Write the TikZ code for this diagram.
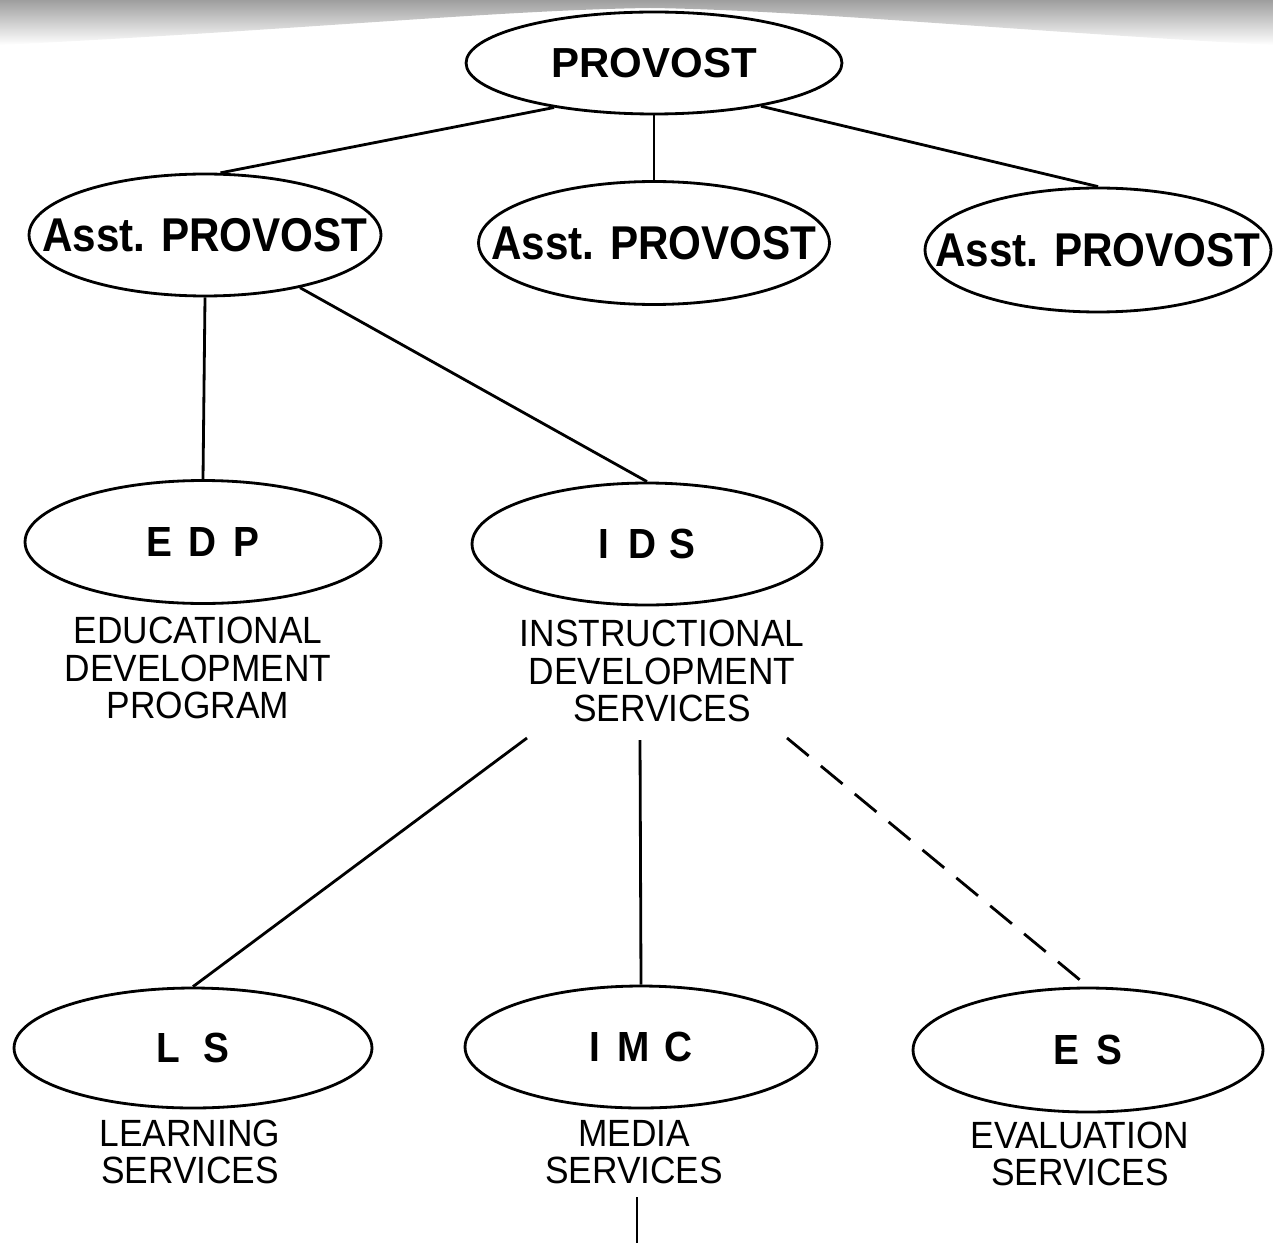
\documentclass[tikz,border=0pt]{standalone}
\usepackage{fontspec}
\setmainfont{Liberation Sans}
\newfontfamily\asstfnt[FakeStretch=0.89]{Liberation Sans}
\newfontfamily\abbrfnt[FakeStretch=0.92]{Liberation Sans}
\newfontfamily\lblfnt[FakeStretch=0.93]{Liberation Sans}
\usetikzlibrary{shapes.geometric}
\begin{document}
\begin{tikzpicture}[x=0.02cm,y=-0.02cm,
  box/.style={draw, ellipse, line width=1.6pt, inner sep=0pt},
  provfont/.style={font=\bfseries\fontsize{23.9}{25}\selectfont},
  asstfont/.style={font=\asstfnt\bfseries\fontsize{27}{28}\selectfont},
  abbrfont/.style={font=\abbrfnt\bfseries\fontsize{24}{25}\selectfont},
  lbl/.style={font=\lblfnt\fontsize{21.6}{21.3}\selectfont, align=center, inner sep=0pt},
  link/.style={line width=1.6pt},
  dashlink/.style={line width=1.6pt, dash pattern=on 16pt off 9pt}]
\useasboundingbox (0,0) rectangle (1273,1243);
% scan shading along the top edge
\shade[top color=black!38, bottom color=white]
  (0,0) -- (1273,0) -- (1273,45) .. controls (1000,30) and (800,10) .. (650,8)
  .. controls (500,10) and (300,30) .. (0,45) -- cycle;

% ellipses
\node[box, provfont, minimum width=7.52cm, minimum height=2.04cm] (prov) at (654,63) {\makebox[0pt]{PROVOST}};
\node[box, asstfont, minimum width=7.04cm, minimum height=2.44cm] (a1) at (205,235) {\makebox[0pt]{Asst. PROVOST}};
\node[box, asstfont, minimum width=7.02cm, minimum height=2.46cm] (a2) at (654,243) {\makebox[0pt]{Asst. PROVOST}};
\node[box, asstfont, minimum width=6.92cm, minimum height=2.48cm] (a3) at (1098,250) {\makebox[0pt]{Asst. PROVOST}};
\node[box, abbrfont, minimum width=7.12cm, minimum height=2.46cm] (edp) at (203,542) {E\hspace{0.4em}D\hspace{0.4em}P};
\node[box, abbrfont, minimum width=7.00cm, minimum height=2.44cm] (ids) at (647,544) {I\hspace{0.45em}D\hspace{0.3em}S};
\node[box, abbrfont, minimum width=7.16cm, minimum height=2.40cm] (ls) at (193,1048) {L\hspace{0.55em}S};
\node[box, abbrfont, minimum width=7.04cm, minimum height=2.44cm] (imc) at (641,1047) {I\hspace{0.4em}M\hspace{0.35em}C};
\node[box, abbrfont, minimum width=7.00cm, minimum height=2.48cm] (es) at (1088,1050) {E\hspace{0.4em}S};

% labels
\node[lbl] (edpl) at (198,668) {EDUCATIONAL\\DEVELOPMENT\\PROGRAM};
\node[lbl] (idsl) at (662,671) {INSTRUCTIONAL\\DEVELOPMENT\\SERVICES};
\node[lbl] (lsl) at (190,1152) {LEARNING\\SERVICES};
\node[lbl] (imcl) at (634,1152) {MEDIA\\SERVICES};
\node[lbl] (esl) at (1080,1154) {EVALUATION\\SERVICES};

% free connector ends
\coordinate (s1) at (527,738);
\coordinate (s2) at (640,740);
\coordinate (s3) at (787,738);
\coordinate (m1) at (637,1197);
\coordinate (m2) at (637,1243);

% connectors
\draw[link] (prov.204) -- (a1.76);
\draw[link] (prov.south) -- (a2.north);
\draw[link] (prov.338) -- (a3.north);
\draw[link] (a1.south) -- (edp.north);
\draw[link] (a1.331) -- (ids.north);
\draw[link] (s1) -- (ls.north);
\draw[link] (s2) -- (imc.north);
\draw[dashlink] (s3) -- (es.north);
\draw[link] (m1) -- (m2);
\end{tikzpicture}
\end{document}
